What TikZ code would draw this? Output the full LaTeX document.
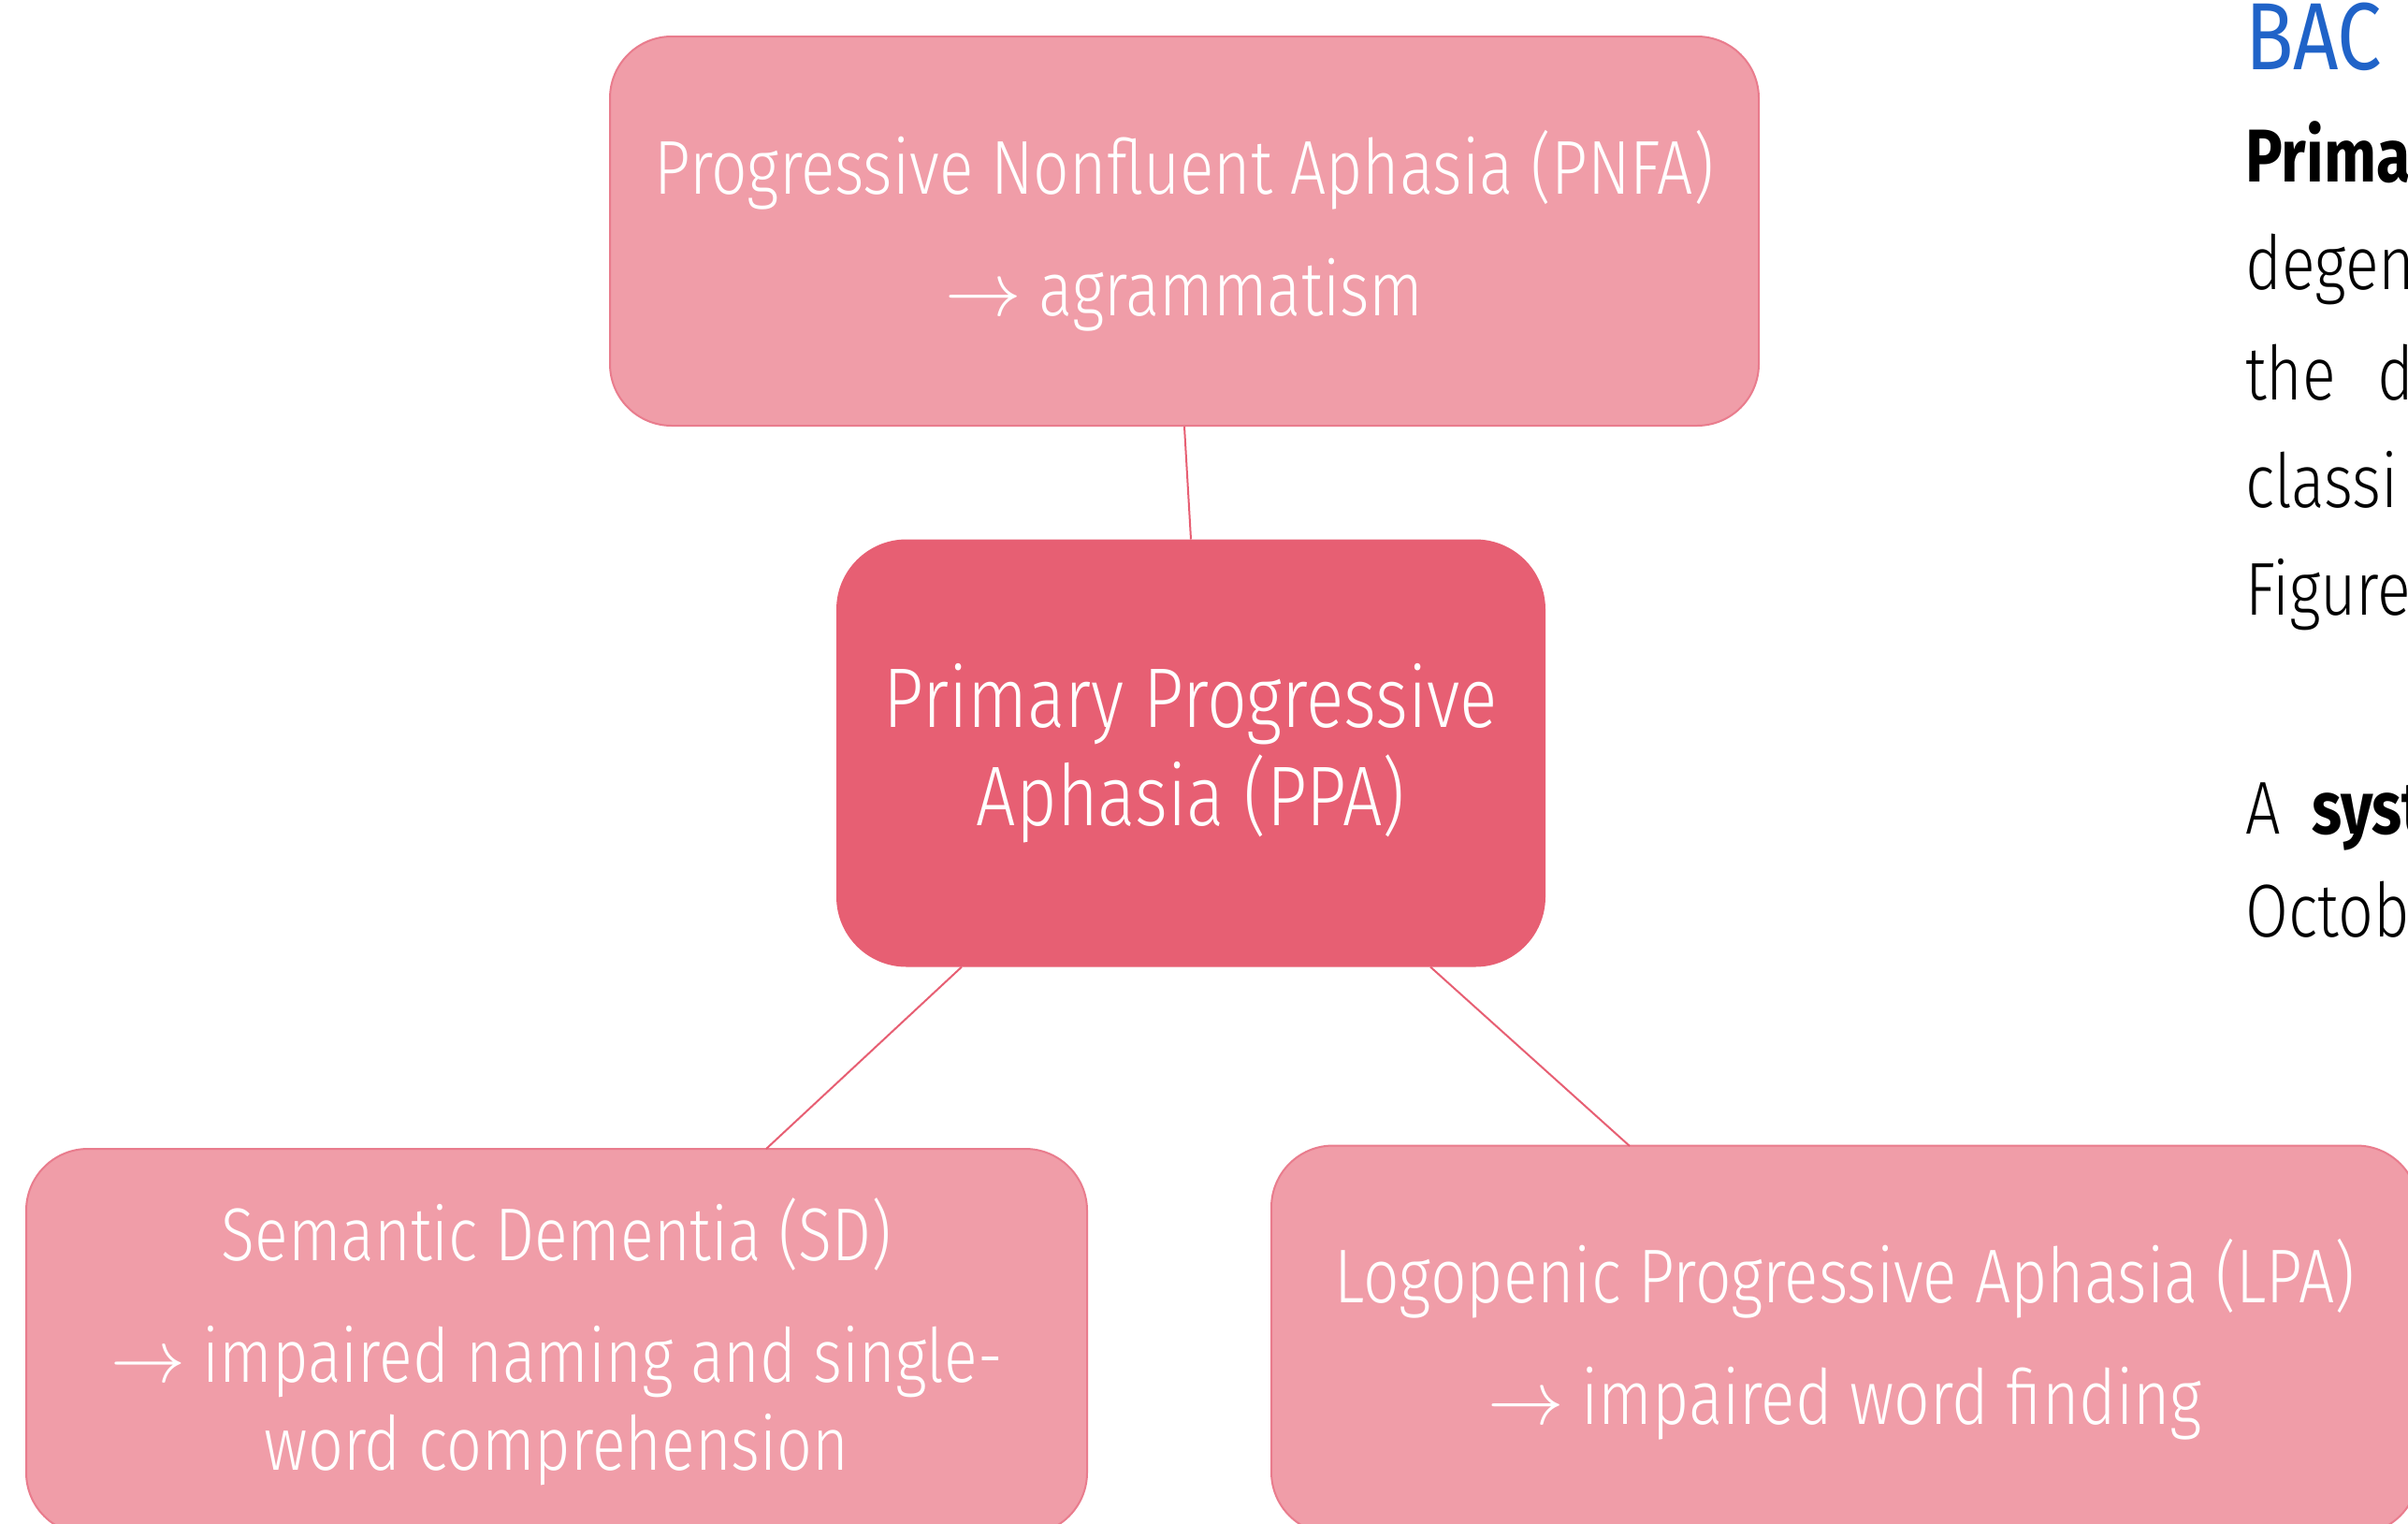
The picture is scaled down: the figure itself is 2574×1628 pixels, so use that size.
\RequirePackage{fix-cm}
\documentclass[tikz,border=0pt]{standalone}
\usepackage{fontspec}
\setmainfont{Fira Sans Light}[FakeStretch=0.83]
\newfontfamily\boldfam{Fira Sans}[FakeStretch=0.83]
\definecolor{darkpink}{HTML}{E75F73}
\definecolor{lightpink}{HTML}{F09DA8}
\definecolor{edgepink}{HTML}{E97C8D}
\definecolor{headblue}{HTML}{2063C8}
\begin{document}
\begin{tikzpicture}[x=1pt,y=-1pt,
  lightbox/.style={draw=edgepink, line width=2pt, fill=lightpink, rounded corners=66pt,
    text=white, align=center, inner sep=0pt, font=\fontsize{81.5}{96}\selectfont},
  mainbox/.style={draw=darkpink, line width=2pt, fill=darkpink, rounded corners=74pt,
    text=white, align=center, inner sep=0pt, font=\fontsize{90.5}{105}\selectfont},
  link/.style={draw=darkpink, line width=2pt},
  side/.style={anchor=base west, inner sep=0pt, font=\fontsize{80}{96}\selectfont}]
\useasboundingbox (0,0) rectangle (2574,1628);
\clip (0,0) rectangle (2574,1628);
\fill[white] (0,0) rectangle (2574,1628);

\node[lightbox, minimum width=1228pt, minimum height=416pt] (pnfa) at (1266,247)
  {Progressive Nonfluent Aphasia (PNFA)\\[34pt] $\rightarrow$ agrammatism};
\node[mainbox, minimum width=756pt, minimum height=455pt] (ppa) at (1273,805)
  {Primary Progressive\\Aphasia (PPA)};
\node[lightbox, minimum width=1134pt, minimum height=412pt, font=\fontsize{80}{94}\selectfont] (sd) at (595,1434)
  {Semantic Dementia (SD)\\[36pt] $\rightarrow$ impaired naming and single-\\word comprehension};
\node[lightbox, minimum width=1226pt, minimum height=415pt] (lpa) at (1972,1432)
  {Logopenic Progressive Aphasia (LPA)\\[34pt] $\rightarrow$ impaired word finding};

\draw[link] (pnfa.south) -- (ppa.north);
\draw[link] (ppa.south west) ++(134,0) coordinate (p1) (p1) -- (819,1228);
\draw[link] (ppa.south east) ++(-123,0) coordinate (p2) (p2) -- (1742,1225);

\node[side, text=headblue, font=\fontsize{102}{110}\boldfam] (bac) at (2400,74) {BAC};
\node[side, font=\fontsize{80}{96}\boldfam\bfseries] (l1) at (2400,194) {Prima};
\node[side] (l2) at (2400,309) {degen};
\node[side] (l3) at (2400,427) {the};
\node[side] (l3b) at (2541,427) {d};
\node[side] (l4) at (2400,542) {classi};
\node[side] (l5) at (2400,657) {Figure};
\node[side] (l6) at (2400,891) {A};
\node[side, font=\fontsize{80}{96}\boldfam\bfseries] (l6b) at (2471,891) {syst};
\node[side] (l7) at (2400,1001) {Octob};
\end{tikzpicture}
\end{document}
